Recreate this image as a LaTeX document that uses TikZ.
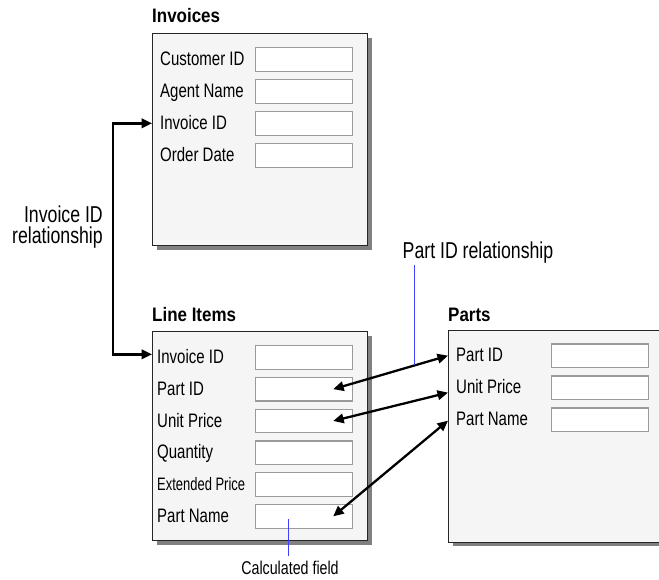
\documentclass[tikz,border=0pt]{standalone}
\usepackage{fontspec}
\setmainfont{Liberation Sans}
\newfontfamily\labfont[FakeStretch=0.77]{Liberation Sans}
\newfontfamily\narrowfont[FakeStretch=0.72]{Liberation Sans}
\newfontfamily\ttlfont[FakeStretch=0.87]{Liberation Sans}
\usetikzlibrary{arrows.meta,shadows}
\definecolor{panelbg}{HTML}{F5F5F5}
\definecolor{shadowgray}{HTML}{808080}
\definecolor{fieldgray}{HTML}{9A9A9A}
\definecolor{calloutblue}{HTML}{3F3FFF}
\begin{document}
\begin{tikzpicture}[x=1pt,y=-1pt,
  panel/.style={draw=black!85, line width=1pt, fill=panelbg, inner sep=0pt, anchor=north west,
    drop shadow={shadow xshift=4pt, shadow yshift=-4pt, opacity=1, fill=shadowgray}},
  field/.style={draw=fieldgray, line width=1.2pt, fill=white, minimum width=97pt, minimum height=23.5pt, inner sep=0pt, anchor=north west},
  lab/.style={font=\labfont\fontsize{19.5}{20}\selectfont, anchor=base west, inner sep=0pt},
  ttl/.style={font=\ttlfont\bfseries\fontsize{19.5}{20}\selectfont, anchor=base west, inner sep=0pt},
  note/.style={font=\labfont\fontsize{23}{21}\selectfont, inner sep=0pt},
  link/.style={line width=2.3pt, {Triangle[length=10.5pt,width=9.5pt]}-{Triangle[length=10.5pt,width=9.5pt]}},
  callout/.style={draw=calloutblue, line width=1.2pt}]
\useasboundingbox (0,0) rectangle (659,579);
\clip (0,0) rectangle (659,579);

% ---------- Invoices ----------
\node[ttl] (tinv) at (152,22.5) {Invoices};
\node[panel, minimum width=215pt, minimum height=212pt] (inv) at (152,33) {};
\node[field] (i1) at (255,47) {};
\node[field] (i2) at (255,79) {};
\node[field] (i3) at (255,111) {};
\node[field] (i4) at (255,143) {};
\node[lab] (il1) at (160,65.5) {Customer ID};
\node[lab] (il2) at (160,97.5) {Agent Name};
\node[lab] (il3) at (160,129.5) {Invoice ID};
\node[lab] (il4) at (160,161.5) {Order Date};

% ---------- Line Items ----------
\node[ttl] (tli) at (152,321.7) {Line Items};
\node[panel, minimum width=215pt, minimum height=209pt] (li) at (152,331) {};
\node[field] (l1) at (255,345) {};
\node[field] (l2) at (255,376.8) {};
\node[field] (l3) at (255,408.6) {};
\node[field] (l4) at (255,440.4) {};
\node[field] (l5) at (255,472.2) {};
\node[field] (l6) at (255,504) {};
\node[lab] (ll1) at (157,363.5) {Invoice ID};
\node[lab] (ll2) at (157,395.3) {Part ID};
\node[lab] (ll3) at (157,427.1) {Unit Price};
\node[lab] (ll4) at (157,458.9) {Quantity};
\node[lab, font=\narrowfont\fontsize{18}{20}\selectfont] (ll5) at (157,490.7) {Extended Price};
\node[lab] (ll6) at (157,522.5) {Part Name};

% ---------- Parts ----------
\node[ttl] (tpa) at (448,321.7) {Parts};
\node[panel, minimum width=230pt, minimum height=212pt] (pa) at (448,329.5) {};
\node[field] (p1) at (551,343.3) {};
\node[field] (p2) at (551,375.3) {};
\node[field] (p3) at (551,407.3) {};
\node[lab] (pl1) at (456,361.8) {Part ID};
\node[lab] (pl2) at (456,393.8) {Unit Price};
\node[lab] (pl3) at (456,425.8) {Part Name};

% ---------- annotations ----------
\node[note, anchor=east, align=right] (invrel) at (103,226.9) {Invoice ID\\relationship};
\node[note, anchor=base west] (pidrel) at (402.5,258) {Part ID relationship};
\node[lab, font=\labfont\fontsize{18.5}{20}\selectfont, anchor=base] (calc) at (290,574.5) {Calculated field};

% ---------- connectors ----------
\draw[link] (inv.west |- i3.center) -- ++(-39,0) |- ([yshift=3pt]li.west |- l1.center);
\draw[link] (pa.west |- p1.center) -- coordinate[pos=0.293] (m1) ([xshift=-20pt]l2.east);
\draw[link] ([yshift=-5pt]pa.west |- p2.center) -- ([xshift=-20pt]l3.east);
\draw[link] ([yshift=-1pt]pa.west |- p3.center) -- ([xshift=-20pt]l6.east);

\draw[callout] ([yshift=-2pt]m1 |- pidrel.south) -- (m1);
\draw[callout] ([xshift=-1.7pt,yshift=-3pt]calc.north |- l6.center) -- ([xshift=-1.7pt,yshift=5pt]calc.north);
\end{tikzpicture}
\end{document}
